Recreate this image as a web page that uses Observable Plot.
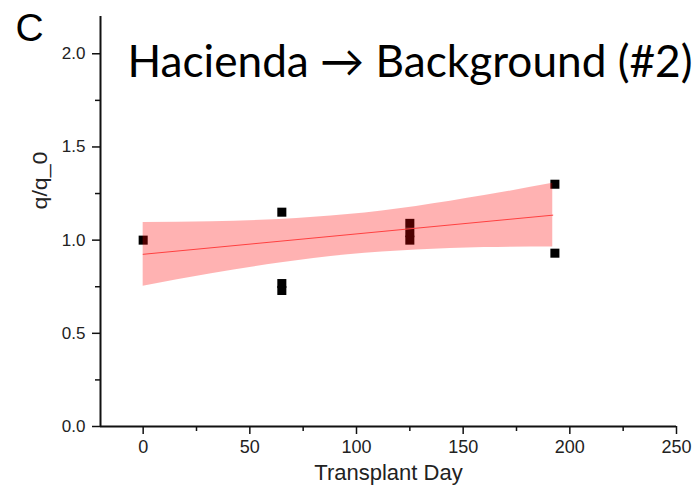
<!DOCTYPE html>
<html>
<head>
<meta charset="utf-8">
<script src="https://cdn.jsdelivr.net/npm/d3@7"></script>
<script src="https://cdn.jsdelivr.net/npm/@observablehq/plot@0.6"></script>
<style>
  html, body { margin: 0; padding: 0; background: #fff; }
  #chart svg { display: block; }
</style>
</head>
<body>
<div id="chart"></div>
<script>
// Observed points
const days   = [0,   65,   65,    65,   125,  125,  125,  193,  193];
const ratios = [1.0, 1.15, 0.767, 0.73, 1.09, 1.04, 1.00, 1.30, 0.93];

// Linear fit and its confidence band
const fitDays   = [0, 192];
const fitRatios = [0.924, 1.134];
const bandDays  = [0,     32,    64,    96,    128,   160,   192];
const bandUpper = [1.095, 1.099, 1.111, 1.137, 1.181, 1.239, 1.305];
const bandLower = [0.753, 0.820, 0.877, 0.921, 0.947, 0.960, 0.963];

// Ticks
const xMajor = [0, 50, 100, 150, 200, 250];
const xMinor = [25, 75, 125, 175, 225];
const yMajor = [0, 0.5, 1.0, 1.5, 2.0];
const yMinor = [0.25, 0.75, 1.25, 1.75];

// Texts
const panelLetter = "C";
const titleText = "Hacienda \u2192 Background (#2)";
const xLabel = "Transplant Day";
const yLabel = "q/q_0";

const points = days.map((d, i) => ({day: d, ratio: ratios[i]}));
const band = bandDays.map((d, i) => ({day: d, lo: bandLower[i], hi: bandUpper[i]}));
const fit = fitDays.map((d, i) => ({day: d, ratio: fitRatios[i]}));

const chart = Plot.plot({
  width: 698,
  height: 495,
  marginLeft: 100,
  marginRight: 22,
  marginTop: 16,
  marginBottom: 69,
  style: {fontFamily: "'Liberation Sans', Arial, sans-serif", color: "#222", background: "#fff"},
  x: {domain: [-20, 250], axis: null},
  y: {domain: [0, 2.2], axis: null},
  marks: [
    Plot.dot(points, {x: "day", y: "ratio", symbol: "square", r: 5.1, fill: "#000", stroke: "none"}),
    Plot.areaY(band, {x: "day", y1: "lo", y2: "hi", fill: "#ff0000", fillOpacity: 0.3, curve: "monotone-x"}),
    Plot.line(fit, {x: "day", y: "ratio", stroke: "#ff4040", strokeWidth: 1}),
    // axis lines
    Plot.ruleX([-20], {y1: 0, y2: 2.2, stroke: "#111", strokeWidth: 2}),
    Plot.ruleY([0], {x1: -20, x2: 250, stroke: "#111", strokeWidth: 2}),
    // y axis
    Plot.axisY(yMajor, {tickSize: 8, tickPadding: 7, strokeWidth: 1.5, stroke: "#111",
      tickFormat: d3.format(".1f"), fontSize: 17, fill: "#222", label: null}),
    Plot.axisY(yMinor, {tickSize: 5, strokeWidth: 1.5, stroke: "#111", text: null, label: null}),
    // x axis
    Plot.axisX(xMajor, {tickSize: 8, tickPadding: 6, strokeWidth: 1.5, stroke: "#111",
      fontSize: 18, fill: "#222", label: null}),
    Plot.axisX(xMinor, {tickSize: 5, strokeWidth: 1.5, stroke: "#111", text: null, label: null}),
    // axis titles
    Plot.text([xLabel], {frameAnchor: "bottom", dy: 46, fontSize: 22, fill: "#222", lineAnchor: "middle"}),
    Plot.text([yLabel], {frameAnchor: "left", dx: -60, dy: -12, rotate: -90, fontSize: 20, fill: "#222", lineAnchor: "middle"}),
    // title and panel letter
    Plot.text([titleText], {frameAnchor: "top-left", dx: 27, dy: 46, textAnchor: "start", lineAnchor: "middle",
      fontSize: 44, fill: "#000", fontFamily: "Lato, 'Open Sans', sans-serif"}),
    Plot.text([panelLetter], {frameAnchor: "top-left", dx: -71, dy: 12, textAnchor: "middle", lineAnchor: "middle",
      fontSize: 39, fill: "#000"})
  ]
});

document.getElementById("chart").appendChild(chart);

// Fit text widths to the reference
d3.select(chart).selectAll("text").each(function () {
  const t = this.textContent;
  if (t === titleText) { this.setAttribute("textLength", 565); this.setAttribute("lengthAdjust", "spacingAndGlyphs"); }
  if (t === yLabel) { this.setAttribute("textLength", 58); this.setAttribute("lengthAdjust", "spacingAndGlyphs"); }
});
</script>
</body>
</html>
